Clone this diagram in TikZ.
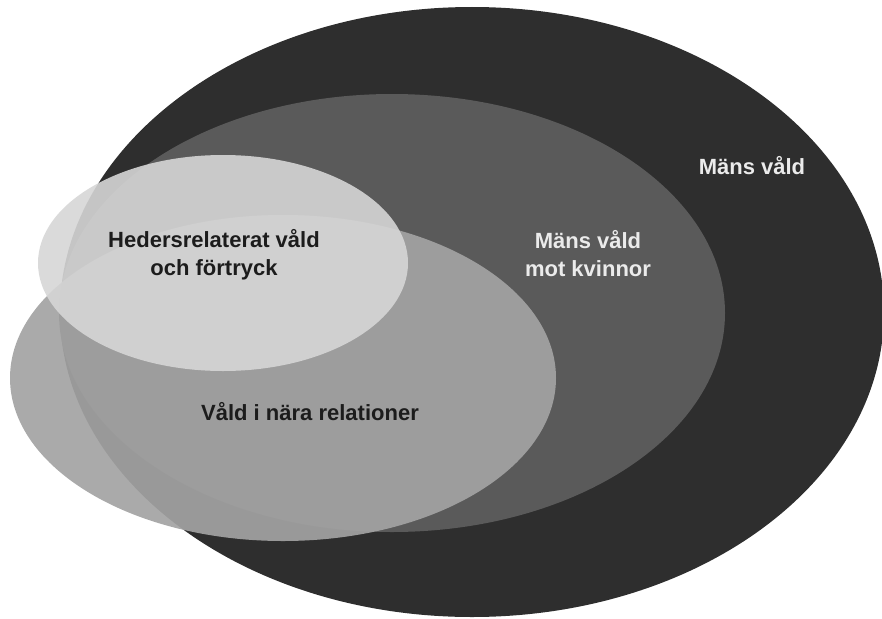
\documentclass[tikz,border=0pt]{standalone}
\usepackage{fontspec}
\usepackage{tikz}
\usetikzlibrary{shapes.geometric}
\newfontfamily\vennfont{Liberation Sans}
\definecolor{darkarea}{HTML}{2E2E2E}
\definecolor{midarea}{HTML}{5A5A5A}
\definecolor{lightarea}{HTML}{A3A3A3}
\definecolor{palearea}{HTML}{D6D6D6}
\definecolor{darktext}{HTML}{1C1C1C}
\definecolor{whitetext}{HTML}{EBEBEB}
\begin{document}
\begin{tikzpicture}[
x=1pt, y=-1pt,
area/.style={
  ellipse,
  draw=none,
  inner sep=0pt
  },
lbl/.style={
  font=\vennfont\bfseries\fontsize{22}{28}\selectfont,
  align=center,
  inner sep=0pt
  }
]
\useasboundingbox (0,0) rectangle (882,618);

% the four areas, largest first
\node[area, fill=darkarea, minimum width=824pt, minimum height=610pt] (mansvald) at (472,312) {};
\node[area, fill=midarea, minimum width=666pt, minimum height=438pt] (kvinnor) at (392,313) {};
\node[area, fill=lightarea, fill opacity=0.92, minimum width=546pt, minimum height=326pt] (nara) at (283,378) {};
\node[area, fill=palearea, fill opacity=0.9, minimum width=370pt, minimum height=216pt] (heder) at (223,263) {};

% labels
\node[lbl, text=whitetext] (mansvald-lbl) at (752,166) {Mäns våld};
\node[lbl, text=whitetext] (kvinnor-lbl) at (588,254) {Mäns våld\\mot kvinnor};
\node[lbl, text=darktext] (nara-lbl) at (310,412) {Våld i nära relationer};
\node[lbl, text=darktext] (heder-lbl) at (214,255) {Hedersrelaterat våld\\och förtryck};
\end{tikzpicture}
\end{document}
